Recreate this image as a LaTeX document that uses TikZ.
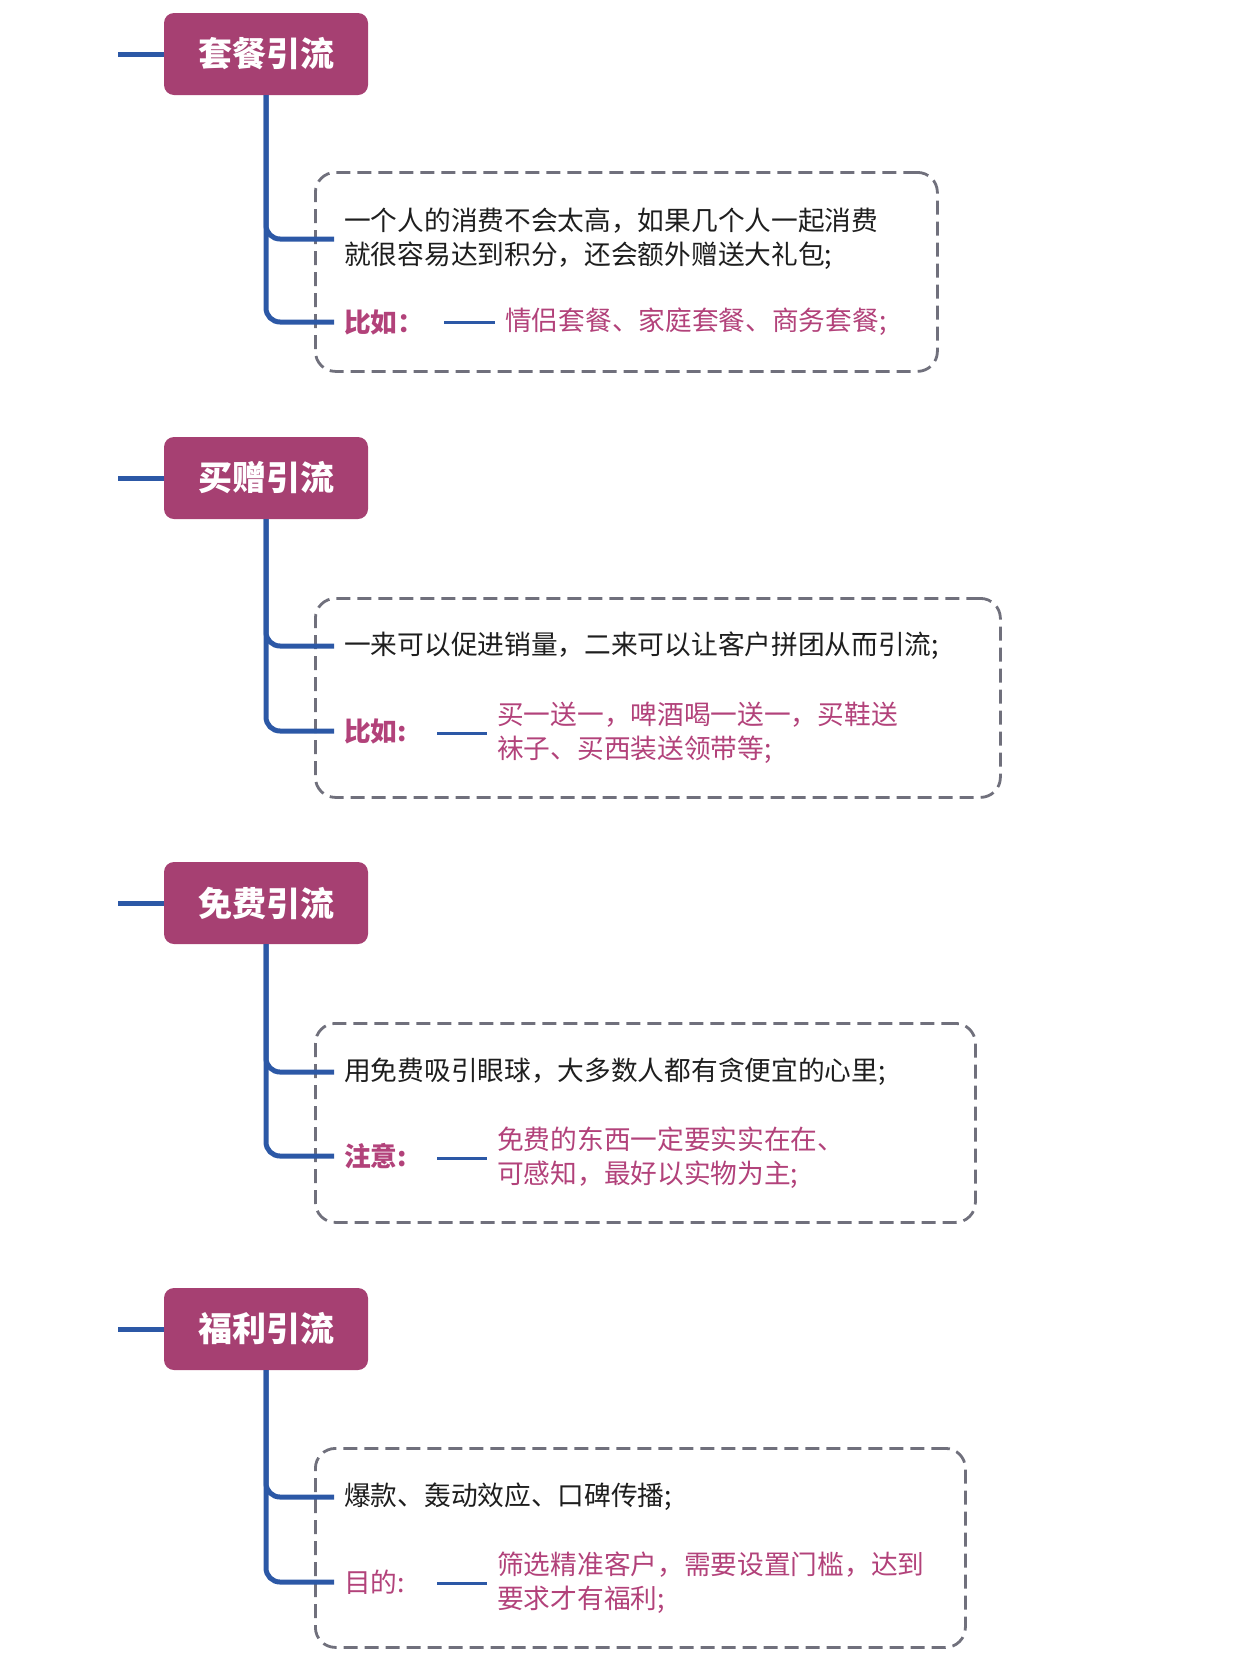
\documentclass[tikz,border=0pt]{standalone}
\usepackage{fontspec}
\setmainfont{Noto Sans CJK SC}
\usetikzlibrary{positioning}

\definecolor{topicred}{RGB}{166,64,114}
\definecolor{linkblue}{RGB}{44,88,166}
\definecolor{notegray}{RGB}{112,112,124}
\definecolor{pinktext}{RGB}{178,66,122}
\definecolor{darktext}{RGB}{30,30,30}

\tikzset{
  topicbox/.style={fill=topicred, text=white, rounded corners=10pt,
    minimum width=204pt, minimum height=82pt, inner sep=0pt,
    font=\bfseries\fontsize{34pt}{40pt}\selectfont},
  notebox/.style={draw=notegray, line width=2.8pt, dash pattern=on 14pt off 7pt,
    rounded corners=20pt, anchor=north west, minimum height=199pt},
  branch/.style={draw=linkblue, line width=5pt, rounded corners=14pt},
  dashlink/.style={draw=linkblue, line width=3pt},
  bodytext/.style={anchor=west, inner xsep=10pt, inner ysep=0pt, align=left,
    text=darktext, font=\fontsize{26.7pt}{34pt}\selectfont},
  keytext/.style={bodytext, text=pinktext},
}

\begin{document}
\begin{tikzpicture}[x=1pt,y=-1pt]
  \useasboundingbox (0,0) rectangle (1244,1658);

  % 套餐引流
  \node[topicbox] (t1) at (266,54) {套餐引流};
  \coordinate (s1) at (118,54);
  \draw[branch] (s1) -- (t1.west);
  \node[notebox, minimum width=622pt] (b1) at (314,171) {};
  \node[bodytext] (a1) at (334,239) {一个人的消费不会太高，如果几个人一起消费\\就很容易达到积分，还会额外赠送大礼包;};
  \node[keytext, font=\bfseries\fontsize{26.7pt}{34pt}\selectfont] (k1) at (334,322) {比如：};
  \node[keytext] (m1) at (495,322) {情侣套餐、家庭套餐、商务套餐;};
  \draw[branch] (t1.south) |- (a1.west);
  \draw[branch] (t1.south) |- (k1.west);
  \draw[dashlink] ([xshift=-51pt]m1.west) -- (m1.west);

  % 买赠引流
  \node[topicbox] (t2) at (266,478) {买赠引流};
  \coordinate (s2) at (118,478);
  \draw[branch] (s2) -- (t2.west);
  \node[notebox, minimum width=685pt] (b2) at (314,597) {};
  \node[bodytext] (a2) at (334,646) {一来可以促进销量，二来可以让客户拼团从而引流;};
  \node[keytext, font=\bfseries\fontsize{26.7pt}{34pt}\selectfont] (k2) at (334,731) {比如:};
  \node[keytext] (m2) at (487,733) {买一送一，啤酒喝一送一，买鞋送\\袜子、买西装送领带等;};
  \draw[branch] (t2.south) |- (a2.west);
  \draw[branch] (t2.south) |- (k2.west);
  \draw[dashlink] ([xshift=-50pt]m2.west) -- (m2.west);

  % 免费引流
  \node[topicbox] (t3) at (266,903) {免费引流};
  \coordinate (s3) at (118,903);
  \draw[branch] (s3) -- (t3.west);
  \node[notebox, minimum width=660pt] (b3) at (314,1022) {};
  \node[bodytext] (a3) at (334,1072) {用免费吸引眼球，大多数人都有贪便宜的心里;};
  \node[keytext, font=\bfseries\fontsize{26.7pt}{34pt}\selectfont] (k3) at (334,1156) {注意:};
  \node[keytext] (m3) at (487,1158) {免费的东西一定要实实在在、\\可感知，最好以实物为主;};
  \draw[branch] (t3.south) |- (a3.west);
  \draw[branch] (t3.south) |- (k3.west);
  \draw[dashlink] ([xshift=-50pt]m3.west) -- (m3.west);

  % 福利引流
  \node[topicbox] (t4) at (266,1329) {福利引流};
  \coordinate (s4) at (118,1329);
  \draw[branch] (s4) -- (t4.west);
  \node[notebox, minimum width=650pt] (b4) at (314,1447) {};
  \node[bodytext] (a4) at (334,1497) {爆款、轰动效应、口碑传播;};
  \node[keytext] (k4) at (334,1582) {目的:};
  \node[keytext] (m4) at (487,1583) {筛选精准客户，需要设置门槛，达到\\要求才有福利;};
  \draw[branch] (t4.south) |- (a4.west);
  \draw[branch] (t4.south) |- (k4.west);
  \draw[dashlink] ([xshift=-50pt]m4.west) -- (m4.west);
\end{tikzpicture}
\end{document}
